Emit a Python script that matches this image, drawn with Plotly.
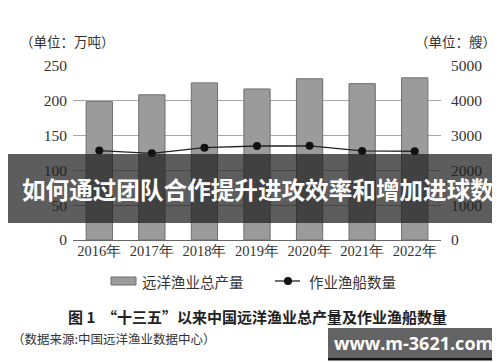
import plotly.graph_objects as go

years = ["2016年", "2017年", "2018年", "2019年", "2020年", "2021年", "2022年"]
output_wt = [198.75, 208.62, 225.75, 217.02, 231.66, 224.65, 232.98]   # 万吨
vessels = [2571, 2491, 2654, 2701, 2705, 2559, 2551]                    # 艘
left_ticks = [0, 50, 100, 150, 200, 250]
right_ticks = [0, 1000, 2000, 3000, 4000, 5000]

W, H = 500, 362
L, R, T, B = 65, 433, 58, 232


def px(x):
    return (x - L) / (R - L)


def py(y):
    return (B - y) / (B - T)


SERIF = "Liberation Serif, Times New Roman, serif"
CJK = "Noto Sans CJK SC"

fig = go.Figure()
fig.add_trace(go.Bar(x=years, y=output_wt, name="远洋渔业总产量",
                     marker=dict(color="#9b9b9b", line=dict(color="#6e6e6e", width=1)),
                     width=0.5, yaxis="y", showlegend=False))
fig.add_trace(go.Scatter(x=years, y=vessels, name="作业渔船数量", mode="lines+markers",
                         line=dict(color="#222", width=1.3),
                         marker=dict(color="#111", size=8), yaxis="y2", showlegend=False))

fig.update_layout(
    width=W, height=H,
    margin=dict(l=L, r=W - R, t=T, b=H - B, autoexpand=False),
    paper_bgcolor="white", plot_bgcolor="white",
    bargap=0.5,
    xaxis=dict(showgrid=False, showline=False, ticks="", automargin=False,
               tickfont=dict(family=SERIF, size=14.5, color="#333"), ticklabelstandoff=0),
    yaxis=dict(range=[0, 250], tickvals=left_ticks, showgrid=True, gridcolor="#a8a8a8",
               gridwidth=1, zeroline=True, zerolinecolor="#666", zerolinewidth=1.2,
               showline=False, ticks="", automargin=False,
               tickfont=dict(family=SERIF, size=15.5, color="#333"), ticklabelstandoff=5),
    yaxis2=dict(range=[0, 5000], tickvals=right_ticks, overlaying="y", side="right",
                showgrid=False, zeroline=False, showline=False, ticks="", automargin=False,
                tickfont=dict(family=SERIF, size=15.5, color="#333"), ticklabelstandoff=9),
    font=dict(family=CJK, color="#333"),
)

ann = []
ann.append(dict(text="（单位：万吨）", x=px(10), y=py(33), xref="paper", yref="paper",
                xanchor="left", yanchor="middle", showarrow=False,
                font=dict(family=CJK, size=13.5, color="#333")))
ann.append(dict(text="（单位：艘）", x=px(490), y=py(33), xref="paper", yref="paper",
                xanchor="right", yanchor="middle", showarrow=False,
                font=dict(family=CJK, size=13.5, color="#333")))
# legend
ann.append(dict(text="远洋渔业总产量", x=px(132), y=py(273), xref="paper", yref="paper",
                xanchor="left", yanchor="middle", showarrow=False,
                font=dict(family=CJK, size=14.5, color="#333")))
ann.append(dict(text="作业渔船数量", x=px(299), y=py(273), xref="paper", yref="paper",
                xanchor="left", yanchor="middle", showarrow=False,
                font=dict(family=CJK, size=14.5, color="#333")))
# caption
ann.append(dict(text="<b>图 1  “十三五”以来中国远洋渔业总产量及作业渔船数量</b>",
                x=px(249), y=py(308), xref="paper", yref="paper",
                xanchor="center", yanchor="middle", showarrow=False,
                font=dict(family=CJK, size=15, color="#222")))
ann.append(dict(text="（数据来源:中国远洋渔业数据中心）", x=px(2), y=py(330), xref="paper",
                yref="paper", xanchor="left", yanchor="middle", showarrow=False,
                font=dict(family=CJK, size=12.5, color="#333")))
# banner text
ann.append(dict(text="<b>如何通过团队合作提升进攻效率和增加进球数</b>", x=px(250), y=py(181),
                xref="paper", yref="paper", xanchor="center", yanchor="middle",
                showarrow=False, font=dict(family=CJK, size=23.6, color="white")))
# watermark
ann.append(dict(text="<b>www.m-3621.com</b>", x=px(405), y=py(335), xref="paper", yref="paper",
                xanchor="center", yanchor="middle", showarrow=False,
                font=dict(family="Open Sans", size=18, color="white")))

shapes = []
shapes.append(dict(type="rect", xref="paper", yref="paper", x0=px(103), x1=px(128),
                   y0=py(269), y1=py(277), fillcolor="#9b9b9b",
                   line=dict(color="#6e6e6e", width=1)))
shapes.append(dict(type="line", xref="paper", yref="paper", x0=px(267), x1=px(292),
                   y0=py(273), y1=py(273), line=dict(color="#222", width=1.3)))
shapes.append(dict(type="circle", xref="paper", yref="paper", x0=px(276), x1=px(284),
                   y0=py(277), y1=py(269), fillcolor="#111", line=dict(width=0)))
shapes.append(dict(type="rect", xref="paper", yref="paper", x0=px(0), x1=px(500),
                   y0=py(215), y1=py(146), fillcolor="rgba(30,30,30,0.72)",
                   line=dict(width=0), layer="above"))
shapes.append(dict(type="rect", xref="paper", yref="paper", x0=px(320), x1=px(491),
                   y0=py(350), y1=py(320), fillcolor="#636363",
                   line=dict(width=0), layer="above"))
shapes.append(dict(type="rect", xref="paper", yref="paper", x0=px(320), x1=px(491),
                   y0=py(352.5), y1=py(350), fillcolor="#111",
                   line=dict(width=0), layer="above"))

fig.update_layout(annotations=ann, shapes=shapes)
fig.write_html("out.html")
